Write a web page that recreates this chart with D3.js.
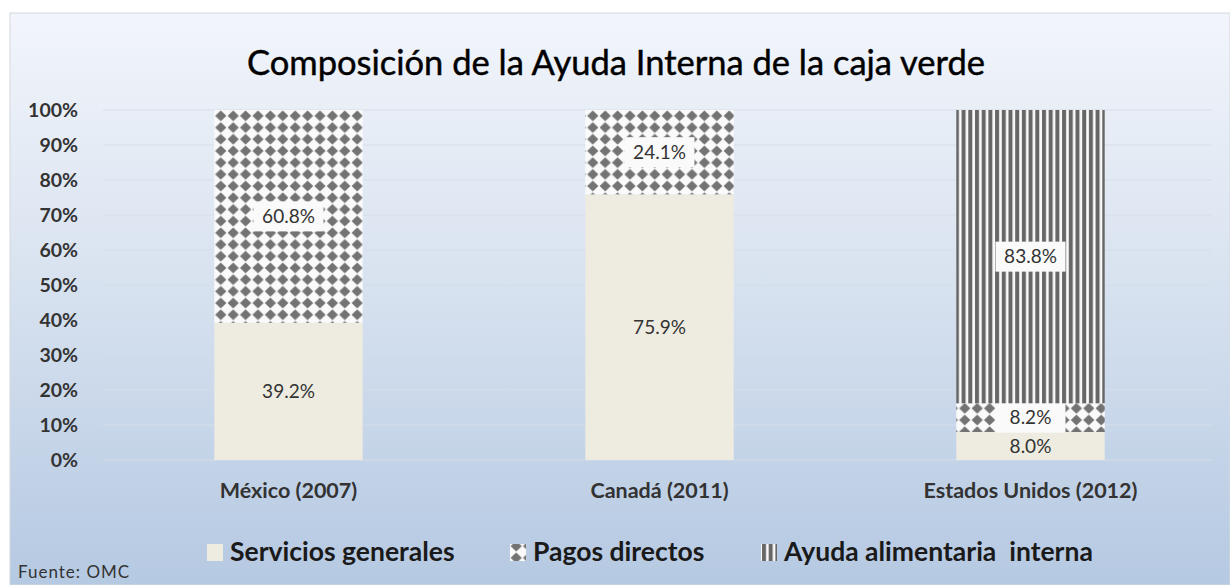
<!DOCTYPE html>
<html>
<head>
<meta charset="utf-8">
<script src="https://cdn.jsdelivr.net/npm/d3@7"></script>
<style>
  body { margin: 0; background: #fff; }
  svg text { font-family: Lato, "Open Sans", sans-serif; }
</style>
</head>
<body>
<svg id="chart" width="1230" height="585"></svg>
<script>
// data
var categories = ["México (2007)", "Canadá (2011)", "Estados Unidos (2012)"];
var seriesNames = ["Servicios generales", "Pagos directos", "Ayuda alimentaria  interna"];
var servicios = [39.2, 75.9, 8.0];
var pagos = [60.8, 24.1, 8.2];
var ayuda = [0, 0, 83.8];
var yTicks = [0, 10, 20, 30, 40, 50, 60, 70, 80, 90, 100];

var svg = d3.select("#chart"),
    margin = {top: 110, right: 14, bottom: 125, left: 103},
    width = 1230 - margin.left - margin.right,
    height = 585 - margin.top - margin.bottom;

var defs = svg.append("defs");

var grad = defs.append("linearGradient")
    .attr("id", "bg").attr("x1", 0).attr("y1", 0).attr("x2", 0).attr("y2", 1);
grad.append("stop").attr("offset", "0%").attr("stop-color", "#f2f5fb");
grad.append("stop").attr("offset", "45%").attr("stop-color", "#d9e3f0");
grad.append("stop").attr("offset", "100%").attr("stop-color", "#b5c9e2");

// diamond checker pattern for "Pagos directos"
var pd = defs.append("pattern").attr("id", "diamonds")
    .attr("patternUnits", "userSpaceOnUse")
    .attr("width", 12.4).attr("height", 11.7);
pd.append("rect").attr("width", 12.4).attr("height", 11.7).attr("fill", "#fafafa");
pd.append("path").attr("d", "M6.2,0.6L11.8,5.85L6.2,11.1L0.6,5.85Z").attr("fill", "#737373");

// vertical stripes for "Ayuda alimentaria interna"
var ps = defs.append("pattern").attr("id", "stripes")
    .attr("patternUnits", "userSpaceOnUse")
    .attr("width", 6.7).attr("height", 10);
ps.append("rect").attr("width", 6.7).attr("height", 10).attr("fill", "#fafafa");
ps.append("rect").attr("x", 1).attr("width", 4).attr("height", 10).attr("fill", "#666");

var fills = ["#eeece1", "url(#diamonds)", "url(#stripes)"];

// background panel
svg.append("rect")
    .attr("x", 10).attr("y", 13).attr("width", 1220).attr("height", 572)
    .attr("fill", "url(#bg)").attr("stroke", "#d4d8de");

svg.append("text")
    .attr("x", 616).attr("y", 75)
    .attr("text-anchor", "middle")
    .style("font-size", "34.5px")
    .attr("fill", "#000")
    .attr("stroke", "#000").attr("stroke-width", 0.45)
    .text("Composición de la Ayuda Interna de la caja verde");

var g = svg.append("g").attr("transform", "translate(" + margin.left + "," + margin.top + ")");

var x = d3.scaleBand().domain(categories).range([0, width]).paddingInner(0.6).paddingOuter(0.3);
var y = d3.scaleLinear().domain([0, 100]).range([height, 0]);

// gridlines
g.append("g")
  .selectAll("line")
  .data(yTicks)
  .enter().append("line")
    .attr("x1", 0).attr("x2", width - 4)
    .attr("y1", function(d) { return y(d); })
    .attr("y2", function(d) { return y(d); })
    .attr("stroke", "#d6deea").attr("stroke-width", 1.2);

// y axis
var yAxis = g.append("g")
    .attr("transform", "translate(-22,0)")
    .call(d3.axisLeft(y).tickValues(yTicks).tickSize(0).tickFormat(function(d) { return d + "%"; }));
yAxis.select(".domain").remove();
yAxis.selectAll("text")
    .style("font-family", "Lato, sans-serif")
    .style("font-size", "19.5px").style("font-weight", "bold").attr("fill", "#333");

// x axis
var xAxis = g.append("g")
    .attr("transform", "translate(0," + (height + 20) + ")")
    .call(d3.axisBottom(x).tickSize(0));
xAxis.select(".domain").remove();
xAxis.selectAll("text")
    .style("font-family", "Lato, sans-serif")
    .style("font-size", "21.5px").style("font-weight", "bold").attr("fill", "#333");

// stacked bars
var table = categories.map(function(c, i) {
  return {cat: c, s0: servicios[i], s1: pagos[i], s2: ayuda[i]};
});
var stack = d3.stack().keys(["s0", "s1", "s2"])(table);

var layers = g.selectAll(".layer")
  .data(stack)
  .enter().append("g")
    .attr("class", "layer")
    .attr("fill", function(d, i) { return fills[i]; });

layers.selectAll("rect")
  .data(function(d) { return d; })
  .enter().append("rect")
    .attr("x", function(d) { return x(d.data.cat); })
    .attr("y", function(d) { return y(d[1]); })
    .attr("height", function(d) { return y(d[0]) - y(d[1]); })
    .attr("width", x.bandwidth());

// data labels
layers.each(function(layer, li) {
  var lg = d3.select(this);
  layer.forEach(function(d) {
    var v = d[1] - d[0];
    if (v <= 0) return;
    var cx = x(d.data.cat) + x.bandwidth() / 2,
        cy = y((d[0] + d[1]) / 2);
    var txt = v.toFixed(1) + "%";
    if (li > 0) {
      lg.append("rect")
        .attr("x", cx - 35).attr("y", cy - 15)
        .attr("width", 70).attr("height", 30)
        .attr("fill", "#fafafa");
    }
    lg.append("text")
      .attr("x", cx).attr("y", cy)
      .attr("dy", "0.35em")
      .attr("text-anchor", "middle")
      .style("font-size", "19px")
      .attr("fill", "#333")
      .text(txt);
  });
});

// legend
var legX = [207, 510, 761];
var leg = svg.append("g").selectAll("g")
  .data(seriesNames)
  .enter().append("g")
    .attr("transform", function(d, i) { return "translate(" + legX[i] + ",552)"; });
leg.append("rect")
    .attr("x", 0).attr("y", -8).attr("width", 16).attr("height", 17)
    .attr("fill", function(d, i) { return fills[i]; });
leg.append("text")
    .attr("x", 23).attr("y", 0).attr("dy", "0.35em")
    .style("font-size", "26.5px").style("font-weight", "bold")
    .attr("fill", "#1a1a1a")
    .style("white-space", "pre")
    .text(function(d) { return d; });

svg.append("text")
    .attr("x", 18).attr("y", 572).attr("dy", "0.35em")
    .style("font-size", "17px").style("letter-spacing", "1px")
    .attr("fill", "#333")
    .text("Fuente: OMC");
</script>
</body>
</html>
